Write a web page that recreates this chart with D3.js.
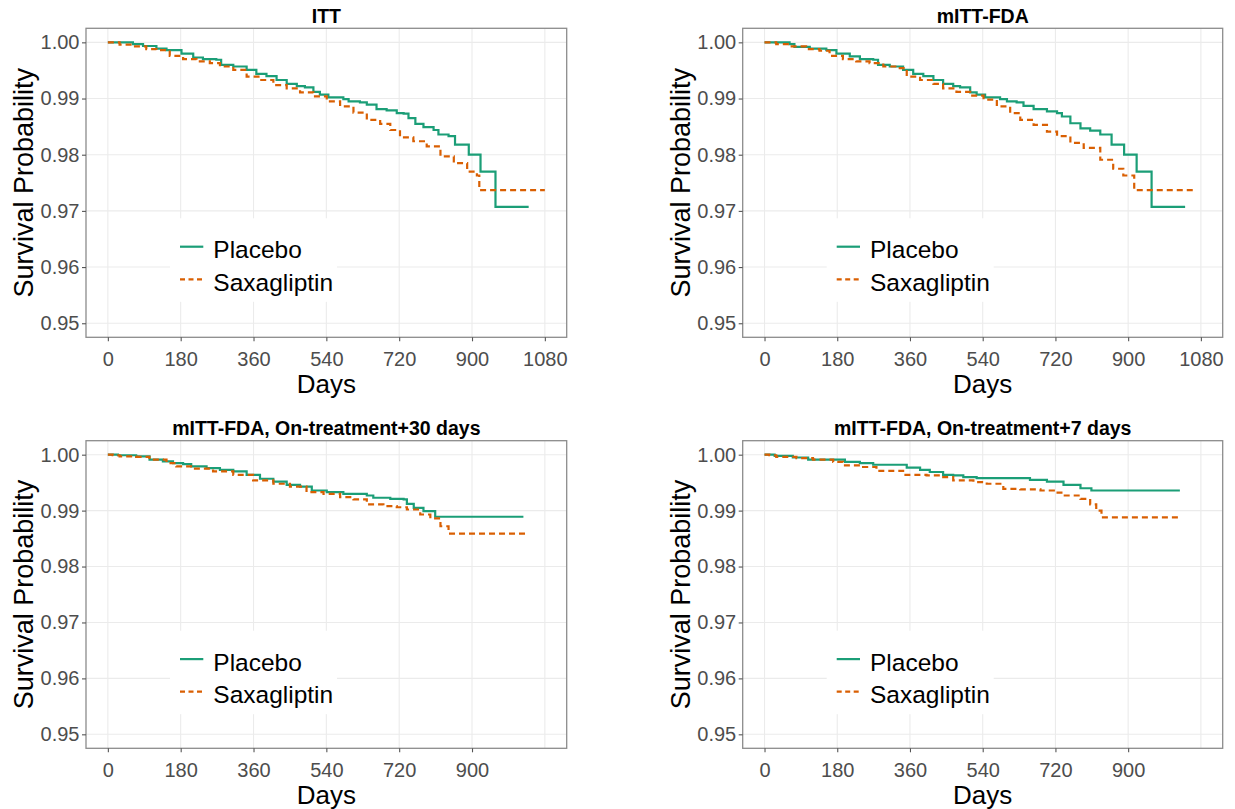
<!DOCTYPE html>
<html>
<head>
<meta charset="utf-8">
<script src="https://cdn.jsdelivr.net/npm/d3@7"></script>
<style>
  html, body { margin: 0; padding: 0; background: #ffffff; }
  svg { display: block; font-family: "Liberation Sans", Arial, Helvetica, sans-serif; }
</style>
</head>
<body>
<svg id="chart" width="1235" height="809"></svg>
<script>
// ---------------- data ----------------
const panelTitles = ["ITT", "mITT-FDA", "mITT-FDA, On-treatment+30 days", "mITT-FDA, On-treatment+7 days"];
const seriesNames = ["Placebo", "Saxagliptin"];
const yTicks = [0.95, 0.96, 0.97, 0.98, 0.99, 1.00];
const xTicksTop = [0, 180, 360, 540, 720, 900, 1080];
const xTicksBottom = [0, 180, 360, 540, 720, 900];
const xLabel = "Days";
const yLabel = "Survival Probability";

// ITT
const ittPlaceboDays = [0,62,87,120,145,182,211,235,268,280,310,343,367,392,417,442,467,487,508,524,545,582,595,623,640,664,689,714,731,743,760,780,805,817,842,858,892,921,958,1040];
const ittPlaceboSurv = [1,0.9997,0.99935,0.9989,0.9986,0.998,0.9973,0.997,0.9969,0.996,0.9957,0.9951,0.9944,0.994,0.9933,0.9926,0.9922,0.992,0.9912,0.9907,0.9902,0.9899,0.9895,0.9893,0.9889,0.9881,0.9879,0.9874,0.9873,0.9865,0.9855,0.9849,0.9844,0.9836,0.9833,0.9818,0.98,0.977,0.9707,0.9707];
const ittSaxaDays = [0,29,62,95,120,153,186,219,252,277,310,343,376,409,442,475,508,541,574,607,640,673,698,722,755,788,822,855,888,912,918,1080];
const ittSaxaSurv = [1,0.9996,0.9993,0.9988,0.9986,0.9976,0.997,0.9966,0.9963,0.9957,0.9951,0.9939,0.9933,0.9924,0.9918,0.9911,0.9904,0.9895,0.9886,0.9875,0.9862,0.9855,0.9844,0.9831,0.9824,0.9815,0.9797,0.9785,0.977,0.9763,0.9737,0.9737];

// mITT-FDA
const mittPlaceboDays = [0,62,74,112,153,178,211,236,269,281,310,343,368,393,418,442,467,484,509,525,546,583,600,624,641,666,699,724,736,757,782,806,831,859,890,921,958,1041];
const mittPlaceboSurv = [1,0.9997,0.9992,0.9989,0.9986,0.998,0.9975,0.997,0.9969,0.996,0.9957,0.9951,0.9944,0.994,0.9933,0.9926,0.9922,0.992,0.9911,0.9907,0.9902,0.9899,0.9895,0.9893,0.9887,0.9881,0.9877,0.9874,0.9868,0.9856,0.9847,0.9843,0.9836,0.9818,0.98,0.977,0.9707,0.9707];
const mittSaxaDays = [0,29,62,103,136,161,194,227,260,294,327,352,385,418,442,475,509,542,575,608,633,666,699,724,757,790,831,863,888,915,1064];
const mittSaxaSurv = [1,0.9997,0.9993,0.9988,0.9985,0.9976,0.997,0.9966,0.9963,0.9957,0.9954,0.9939,0.9933,0.9926,0.9918,0.9912,0.9905,0.9898,0.9886,0.9874,0.9862,0.9853,0.9841,0.9833,0.9821,0.9812,0.9791,0.9775,0.9763,0.9737,0.9737];

// mITT-FDA, On-treatment + 30 days
const ot30PlaceboDays = [0,25,70,103,136,161,186,206,244,277,310,343,376,409,442,475,504,541,582,640,656,698,731,739,756,780,809,1027];
const ot30PlaceboSurv = [1,0.9999,0.9997,0.9991,0.9988,0.9985,0.9983,0.9979,0.9976,0.9973,0.997,0.9964,0.9957,0.9952,0.9946,0.9943,0.9936,0.9933,0.993,0.9927,0.9923,0.9921,0.992,0.9912,0.9905,0.9899,0.9889,0.9889];
const ot30SaxaDays = [0,12,29,70,103,145,169,211,260,310,359,409,450,491,533,574,607,640,681,714,739,772,797,822,842,1037];
const ot30SaxaSurv = [1,0.9999,0.9997,0.9996,0.9991,0.9985,0.9979,0.9975,0.997,0.9964,0.9954,0.9948,0.9943,0.9933,0.993,0.9924,0.992,0.9911,0.9908,0.9906,0.9902,0.9893,0.9886,0.9872,0.9859,0.9859];

// mITT-FDA, On-treatment + 7 days
const ot7PlaceboDays = [0,25,70,108,199,236,269,352,385,409,442,467,492,525,657,699,740,782,809,1028];
const ot7PlaceboSurv = [1,0.9998,0.9995,0.9991,0.9987,0.9985,0.9982,0.9977,0.9973,0.9969,0.9964,0.9963,0.996,0.9958,0.9955,0.9952,0.9946,0.994,0.9936,0.9936];
const ot7SaxaDays = [0,12,29,79,120,170,194,244,277,343,401,434,467,517,550,591,633,683,716,740,782,806,821,834,1032];
const ot7SaxaSurv = [1,0.9999,0.9996,0.9994,0.9991,0.9987,0.9981,0.9978,0.9971,0.9964,0.9963,0.996,0.9954,0.9951,0.9948,0.9939,0.9938,0.9936,0.9932,0.9927,0.9921,0.9911,0.99,0.9888,0.9888];

// ---------------- layout / style ----------------
const colors = ["#1b9e77", "#d95f02"];
const dashes = [null, "6,4"];
const xDomain = [-54, 1134];
const yDomain = [0.9475, 1.0025];
const panels = [
  { left: 86,    top: 28.3,  width: 480.7, height: 309,   xt: xTicksTop,
    series: [[ittPlaceboDays, ittPlaceboSurv], [ittSaxaDays, ittSaxaSurv]] },
  { left: 742.7, top: 28.3,  width: 480,   height: 309,   xt: xTicksTop,
    series: [[mittPlaceboDays, mittPlaceboSurv], [mittSaxaDays, mittSaxaSurv]] },
  { left: 86,    top: 440.7, width: 480.7, height: 307.6, xt: xTicksBottom,
    series: [[ot30PlaceboDays, ot30PlaceboSurv], [ot30SaxaDays, ot30SaxaSurv]] },
  { left: 742.7, top: 440.7, width: 480,   height: 307.6, xt: xTicksBottom,
    series: [[ot7PlaceboDays, ot7PlaceboSurv], [ot7SaxaDays, ot7SaxaSurv]] }
];

const svg = d3.select("#chart");
const fmt = d3.format(".2f");

panels.forEach((p, i) => {
  const x = d3.scaleLinear().domain(xDomain).range([0, p.width]);
  const y = d3.scaleLinear().domain(yDomain).range([p.height, 0]);
  const g = svg.append("g").attr("transform", `translate(${p.left},${p.top})`);

  // grid
  g.append("g").selectAll("line.gx").data(p.xt.concat(p.xt === xTicksBottom ? [1080] : [])).join("line")
    .attr("x1", d => x(d)).attr("x2", d => x(d)).attr("y1", 0).attr("y2", p.height)
    .attr("stroke", "#ebebeb").attr("stroke-width", 1.1);
  g.append("g").selectAll("line.gy").data(yTicks).join("line")
    .attr("x1", 0).attr("x2", p.width).attr("y1", d => y(d)).attr("y2", d => y(d))
    .attr("stroke", "#ebebeb").attr("stroke-width", 1.1);

  // curves
  const line = d3.line().x(d => x(d[0])).y(d => y(d[1])).curve(d3.curveStepAfter);
  p.series.forEach((s, k) => {
    const pts = d3.zip(s[0], s[1]);
    const path = g.append("path").datum(pts).attr("d", line)
      .attr("fill", "none").attr("stroke", colors[k]).attr("stroke-width", 2.2);
    if (dashes[k]) path.attr("stroke-dasharray", dashes[k]);
  });

  // border
  g.append("rect").attr("x", 0).attr("y", 0).attr("width", p.width).attr("height", p.height)
    .attr("fill", "none").attr("stroke", "#8c8c8c").attr("stroke-width", 1.3);

  // axes
  const ax = g.append("g").attr("transform", `translate(0,${p.height})`)
    .call(d3.axisBottom(x).tickValues(p.xt).tickFormat(d3.format("d")).tickSize(4).tickPadding(10.5));
  const ay = g.append("g")
    .call(d3.axisLeft(y).tickValues(yTicks).tickFormat(fmt).tickSize(4).tickPadding(2.5));
  [ax, ay].forEach(a => {
    a.select(".domain").remove();
    a.selectAll(".tick line").attr("stroke", "#555").attr("stroke-width", 1.1);
    a.selectAll(".tick text").attr("fill", "#4d4d4d").style("font-size", "20px")
      .style("font-family", '"Liberation Sans", Arial, sans-serif');
  });

  // title
  g.append("text").attr("x", p.width / 2).attr("y", -5.7).attr("text-anchor", "middle")
    .style("font-size", "19.5px").style("font-weight", "bold").attr("fill", "#000")
    .text(panelTitles[i]);

  // axis titles
  g.append("text").attr("x", p.width / 2).attr("y", p.height + 56).attr("text-anchor", "middle")
    .style("font-size", "26px").attr("fill", "#000").text(xLabel);
  g.append("text").attr("transform", `translate(${-53},${p.height / 2}) rotate(-90)`)
    .attr("text-anchor", "middle").style("font-size", "27px").attr("fill", "#000").text(yLabel);

  // legend
  const lg = g.append("g");
  lg.append("rect").attr("x", 84).attr("y", 190).attr("width", 167).attr("height", 83.5).attr("fill", "#fff");
  seriesNames.forEach((name, k) => {
    const ky = 218.4 + k * 32.6;
    const l = lg.append("line").attr("x1", 94).attr("x2", 117.3).attr("y1", ky).attr("y2", ky)
      .attr("stroke", colors[k]).attr("stroke-width", 2.2);
    if (dashes[k]) l.attr("stroke-dasharray", "5,3.5");
    lg.append("text").attr("x", 127.3).attr("y", ky + 11.6)
      .style("font-size", "24.5px").attr("fill", "#000").text(name);
  });
});
</script>
</body>
</html>
